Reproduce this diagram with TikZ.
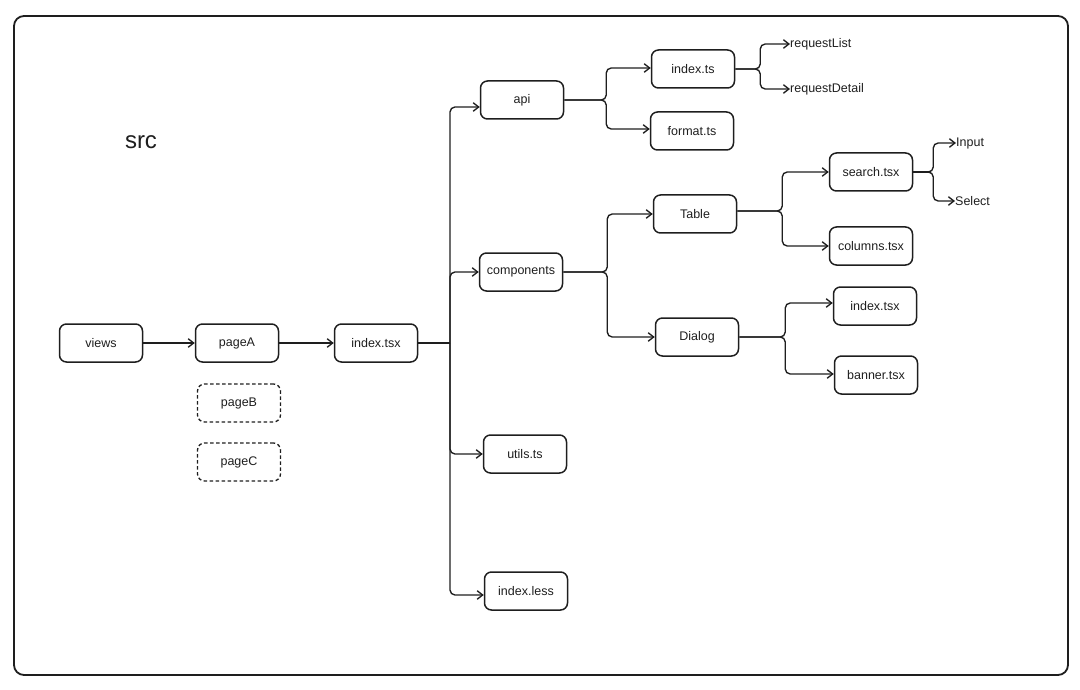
\documentclass[tikz,border=0pt]{standalone}
\usepackage{fontspec}
\setmainfont{Liberation Sans}
\usetikzlibrary{arrows.meta}
\definecolor{ink}{HTML}{1E1E1E}
\begin{document}
\begin{tikzpicture}[x=1pt,y=-1pt,
  box/.style={draw=ink, line width=1.5pt, rounded corners=7pt, minimum width=83pt,
    minimum height=38pt, inner sep=0pt, font=\fontsize{12.5}{14}\selectfont, text=ink},
  dbox/.style={box, line width=1.3pt, dash pattern=on 3.5pt off 2.5pt},
  lbl/.style={inner sep=0pt, font=\fontsize{12.5}{14}\selectfont, text=ink},
  conn/.style={draw=ink, line width=1.35pt, rounded corners=5pt},
  arr/.style={conn, -{Straight Barb[length=5.5pt,width=8.5pt,line width=1.35pt]}},
]
\useasboundingbox (0,0) rectangle (1080,690);
\draw[ink, line width=1.8pt, rounded corners=10pt] (14,16) rectangle (1068,675);

\node[lbl, font=\fontsize{24}{27}\selectfont] (src) at (141,142) {src};

\node[box] (views) at (101,343) {views};
\node[box] (pageA) at (237,343) {pageA};
\node[dbox] (pageB) at (239,403) {pageB};
\node[dbox] (pageC) at (239,462) {pageC};
\node[box] (ix) at (376,343) {index.tsx};

\node[box] (api) at (522,100) {api};
\node[box] (comp) at (521,272) {components};
\node[box] (utils) at (525,454) {utils.ts};
\node[box] (less) at (526,591) {index.less};

\node[box] (its) at (693,69) {index.ts};
\node[box] (fmt) at (692,131) {format.ts};
\node[box] (tbl) at (695,214) {Table};
\node[box] (dlg) at (697,337) {Dialog};

\node[box] (search) at (871,172) {search.tsx};
\node[box] (cols) at (871,246) {columns.tsx};
\node[box] (dix) at (875,306) {index.tsx};
\node[box] (ban) at (876,375) {banner.tsx};

\node[lbl, anchor=west] (rl) at (790,44) {requestList};
\node[lbl, anchor=west] (rd) at (790,89) {requestDetail};
\node[lbl, anchor=west] (inp) at (956,143) {Input};
\node[lbl, anchor=west] (sel) at (955,201) {Select};

% main chain
\draw[arr] (views) -- (pageA);
\draw[arr] (pageA) -- (ix);
\coordinate (t) at (450,343);
\draw[conn, line width=2.4pt, rounded corners=0pt] (ix.east) -- (t);
\draw[arr] (t) |- ([yshift=-7pt]api.west);
\draw[arr] (t) |- (comp.west);
\draw[arr] (t) |- (utils.west);
\draw[arr] (t) |- ([yshift=-4pt]less.west);

% api
\draw[arr] (api.east) -- ++(42,0) |- ([yshift=1pt]its.west);
\draw[arr] (api.east) -- ++(42,0) |- ([yshift=2pt]fmt.west);
\draw[arr] (its.east) -- ++(25,0) |- (rl.west);
\draw[arr] (its.east) -- ++(25,0) |- (rd.west);

% components
\draw[arr] (comp.east) -- ++(44,0) |- (tbl.west);
\draw[arr] (comp.east) -- ++(44,0) |- (dlg.west);
\draw[arr] ([yshift=3pt]tbl.east) -- ++(45,0) |- (search.west);
\draw[arr] ([yshift=3pt]tbl.east) -- ++(45,0) |- (cols.west);
\draw[arr] (dlg.east) -- ++(46,0) |- ([yshift=3pt]dix.west);
\draw[arr] (dlg.east) -- ++(46,0) |- ([yshift=1pt]ban.west);

% search
\draw[conn, line width=2.4pt, rounded corners=0pt] (search.east) -- ++(18,0);
\draw[arr] (search.east) -- ++(20,0) |- (inp.west);
\draw[arr] (search.east) -- ++(20,0) |- (sel.west);
\end{tikzpicture}
\end{document}
